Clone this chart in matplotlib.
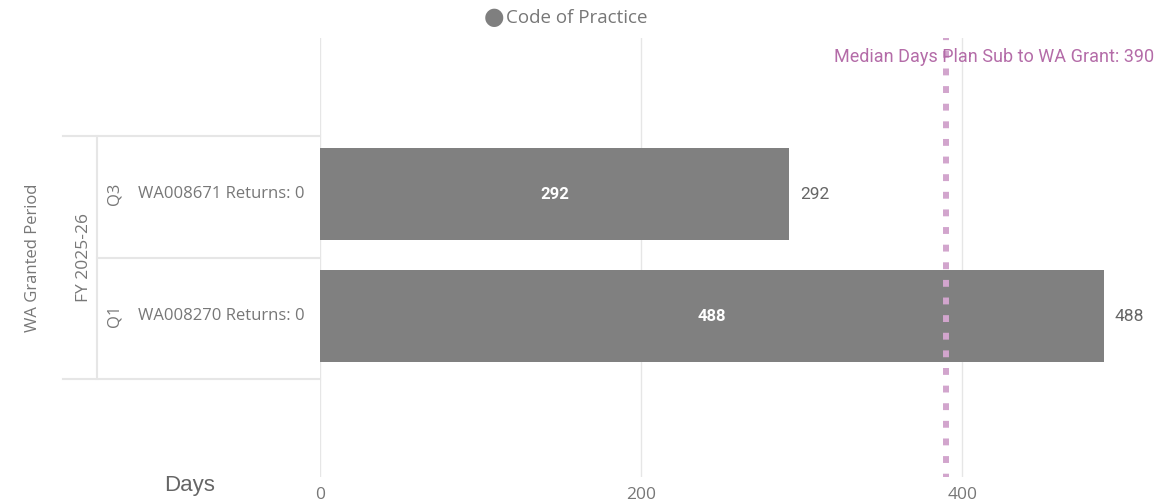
import numpy as np
import matplotlib.pyplot as plt
from matplotlib.transforms import blended_transform_factory

# data
rows = ["WA008270 Returns: 0", "WA008671 Returns: 0"]
quarters = ["Q1", "Q3"]
fiscal_year = "FY 2025-26"
days = [488, 292]
median_days = 390
x_ticks = [0, 200, 400]

bar_color = "#808080"
median_color = "#D2A5CD"
median_text = "#B46CA8"
label_gray = "#777777"

fig = plt.figure(figsize=(11.63, 5.03), dpi=100)
ax = fig.add_axes([320 / 1163, 1 - 477 / 503, 843 / 1163, 439 / 503])

y = np.arange(len(rows))
ax.barh(y, days, height=0.754, color=bar_color, zorder=3)
ax.set_xlim(0, 525)
ax.set_ylim(-1.32, 2.28)

for xi in x_ticks:
    ax.axvline(xi, color="#E6E6E6", lw=1, zorder=1)

for yi, d in zip(y, days):
    ax.text(d / 2, yi, str(d), color="white", fontsize=12, fontweight="bold",
            family="Roboto", ha="center", va="center", zorder=4)
    ax.text(d + 7, yi, str(d), color="#666666", fontsize=12.5,
            family="Roboto", ha="left", va="center", zorder=4)

ax.axvline(median_days, ymax=1.0, color=median_color, lw=4.3,
           linestyle=(0.6, (1.15, 1.8)), zorder=5)
ax.text(0.99, (477 - 57) / 439, "Median Days Plan Sub to WA Grant: %d" % median_days,
        transform=ax.transAxes, color=median_text, fontsize=13,
        family="Roboto", ha="right", va="center", zorder=6)

ax.set_xticks(x_ticks)
ax.set_xticklabels([str(t) for t in x_ticks], color=label_gray, fontsize=12.5,
                   family="Open Sans")
ax.tick_params(axis="x", length=0, pad=7)
ax.set_yticks([])
for s in ax.spines.values():
    s.set_visible(False)

# left hierarchy of labels
tr = blended_transform_factory(fig.transFigure, ax.transData)
px = lambda p: p / 1163
for yi, r, q in zip(y, rows, quarters):
    ax.text(px(305), yi, r, transform=tr, ha="right", va="center",
            color=label_gray, fontsize=12, family="Open Sans", clip_on=False)
    ax.text(px(115), yi, q, transform=tr, ha="center", va="center", rotation=90,
            color=label_gray, fontsize=12, family="Open Sans", clip_on=False)
ax.text(px(84), 0.48, fiscal_year, transform=tr, ha="center", va="center", rotation=90,
        color=label_gray, fontsize=12.5, family="Open Sans", clip_on=False)
for yb, x0 in [(-0.52, 63), (0.48, 97), (1.48, 63)]:
    ax.plot([px(x0), px(320)], [yb, yb], transform=tr, color="#E6E6E6", lw=1.5,
            clip_on=False)
ax.plot([px(97), px(97)], [-0.52, 1.48], transform=tr, color="#E6E6E6", lw=1.5,
        clip_on=False)

fig.text(px(33), 1 - 258 / 503, "WA Granted Period", rotation=90, ha="center",
         va="center", color=label_gray, fontsize=12, family="Open Sans")
fig.text(px(190), 1 - 485 / 503, "Days", ha="center", va="center",
         color="#666666", fontsize=16, family="Liberation Sans")

# legend
fig.text(px(494), 1 - 17 / 503, "\u25CF", color="#7F7F7F", fontsize=17,
         ha="center", va="center", family="DejaVu Sans")
fig.text(px(506), 1 - 18 / 503, "Code of Practice", color=label_gray,
         fontsize=13.5, ha="left", va="center", family="Open Sans")

fig.savefig("out.png", dpi=100)
